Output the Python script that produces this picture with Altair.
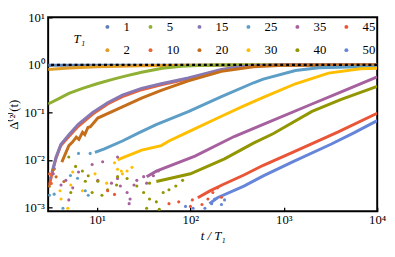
import altair as alt
import pandas as pd

# ---------------- data ----------------
series = ["1", "2", "5", "10", "15", "20", "25", "30", "35", "40", "45", "50"]
colors = ["#5E81B5", "#E19C24", "#8FB032", "#EB6235", "#8778B3", "#C56E1A",
          "#5D9EC7", "#FFBF00", "#A5609D", "#929600", "#E95536", "#6685D9"]
legend_order = ["1", "5", "15", "25", "35", "45", "2", "10", "20", "30", "40", "50"]

# smooth (dense) part of each curve: t/T1 and Delta^(2)
t_1 = [3, 10, 100, 1000, 10000]
d_1 = [0.98, 0.98, 0.985, 0.985, 0.985]
t_2 = [3, 5, 10, 30, 100, 300, 1000, 10000]
d_2 = [0.80, 0.86, 0.91, 0.96, 0.98, 0.99, 0.99, 0.99]
t_5 = [3, 4, 5, 7, 10, 15, 20, 30, 50, 80, 120, 200, 1000, 10000]
d_5 = [0.15, 0.20, 0.25, 0.32, 0.40, 0.50, 0.58, 0.70, 0.85, 0.93, 0.97, 0.99, 0.99, 0.99]
t_10 = [3.1, 3.3, 3.65, 4.1, 5, 6.3, 9, 13, 18.7, 30, 48.7, 95, 215, 347, 600, 1000, 10000]
d_10 = [0.003, 0.0052, 0.0110, 0.020, 0.031, 0.051, 0.092, 0.15, 0.215, 0.30, 0.38, 0.51, 0.78, 0.90, 0.97, 0.99, 0.99]
t_15 = [3.3, 3.65, 4.1, 5, 6.3, 9, 13, 18.7, 30, 48.7, 95, 215, 347, 600, 1000, 10000]
d_15 = [0.0055, 0.0115, 0.021, 0.034, 0.056, 0.10, 0.16, 0.23, 0.32, 0.40, 0.53, 0.80, 0.91, 0.97, 0.99, 0.99]
t_20 = [4.2, 5, 5.5, 6, 6.4, 7, 7.4, 8, 8.5, 10.2, 18.7, 30, 48.7, 95, 215, 473, 1000, 10000]
d_20 = [0.009, 0.020, 0.024, 0.030, 0.027, 0.038, 0.034, 0.048, 0.050, 0.076, 0.13, 0.20, 0.29, 0.46, 0.73, 0.91, 0.98, 0.99]
t_25 = [9.5, 12, 18.7, 28, 43, 95, 215, 475, 603, 1334, 2371, 5000, 10000]
d_25 = [0.0144, 0.017, 0.025, 0.037, 0.055, 0.104, 0.215, 0.42, 0.50, 0.76, 0.87, 0.90, 0.90]
t_30 = [16.6, 18.7, 30.1, 48.7, 59, 95, 215, 374, 603, 1334, 3013, 6650, 10000]
d_30 = [0.010, 0.011, 0.016, 0.020, 0.025, 0.039, 0.083, 0.137, 0.206, 0.40, 0.67, 0.83, 0.85]
t_35 = [34, 43.2, 112, 294, 603, 2005, 4121, 10000]
d_35 = [0.0044, 0.0058, 0.012, 0.031, 0.056, 0.15, 0.27, 0.556]
t_40 = [43.2, 100, 232, 473, 767, 2005, 4121, 10000]
d_40 = [0.0035, 0.0051, 0.0105, 0.0225, 0.0354, 0.105, 0.188, 0.354]
t_45 = [120, 160, 221, 374, 603, 1242, 3830, 10000]
d_45 = [0.0016, 0.0022, 0.0030, 0.0048, 0.0077, 0.0144, 0.039, 0.096]
t_50 = [160, 195, 374, 603, 1242, 3236, 5623, 10000]
d_50 = [0.0012, 0.0016, 0.0028, 0.0046, 0.0091, 0.0216, 0.037, 0.067]

# scattered (noisy) points at small Delta
nt_10 = [3.09, 3.24]
nd_10 = [0.0051, 0.0032]
nt_15 = [3.2, 3.5]
nd_15 = [0.0042, 0.0065]
nt_20 = [3.09, 3.65, 4.42, 3.4]
nd_20 = [0.0028, 0.0044, 0.0035, 0.0062]
nt_25 = [3.48, 7.5, 8.06, 6.19, 4.32, 6.34, 8.45, 3.1, 5.2]
nd_25 = [0.0019, 0.00225, 0.0018, 0.0041, 0.00096, 0.0137, 0.0137, 0.0018, 0.0047]
nt_30 = [4.02, 4.12, 4.87, 5.24, 5.5, 6.98, 15.4, 18.2, 12.7, 9.53, 18.7, 21.0, 23.7, 16.6]
nd_30 = [0.00225, 0.0015, 0.00096, 0.00296, 0.00556, 0.00225, 0.00873, 0.00582, 0.00324,
         0.00508, 0.00508, 0.00582, 0.00697, 0.00637]
nt_35 = [3.4, 4.12, 4.64, 5.5, 6.34, 8.87, 10.2, 14.3, 16.6, 11.5, 4.99, 16.6, 17.8, 21.0,
         22.6, 24.9, 26.7, 31.6, 34.0, 40.2, 45.3, 22.1]
nd_35 = [0.00508, 0.00296, 0.00371, 0.00258, 0.00556, 0.00798, 0.00371, 0.00324, 0.00406,
         0.00914, 0.00144, 0.0115, 0.00283, 0.00206, 0.0015, 0.00296, 0.00371, 0.00444,
         0.00324, 0.00464, 0.00582, 0.0012]
nt_40 = [4.99, 5.9, 6.98, 8.06, 10.2, 8.87, 11.3, 13.0, 16.2, 5.24, 7.5, 16.6, 21.0, 26.7,
         31.6, 36.5, 43.2, 51.1, 59.0, 69.8, 82.5, 36.5, 34.0, 46.4]
nd_40 = [0.0115, 0.00729, 0.00582, 0.00464, 0.00354, 0.00206, 0.0018, 0.00236, 0.00296,
         0.00206, 0.00354, 0.00444, 0.00406, 0.00283, 0.00206, 0.0015, 0.00131, 0.00206,
         0.00236, 0.00283, 0.00371, 0.00324, 0.00096, 0.00091]
nt_45 = [15.4, 13.0, 59, 75, 105, 133, 100, 174, 154, 195, 215]
nd_45 = [0.00188, 0.00225, 0.0012, 0.00131, 0.00144, 0.00115, 0.00105, 0.00206, 0.0015,
         0.00258, 0.00164]
nt_50 = [88.7, 107, 143, 169, 182, 215, 232]
nd_50 = [0.00105, 0.00096, 0.00096, 0.0012, 0.0015, 0.00115, 0.00144]

curves = {"1": (t_1, d_1), "2": (t_2, d_2), "5": (t_5, d_5), "10": (t_10, d_10),
          "15": (t_15, d_15), "20": (t_20, d_20), "25": (t_25, d_25), "30": (t_30, d_30),
          "35": (t_35, d_35), "40": (t_40, d_40), "45": (t_45, d_45), "50": (t_50, d_50)}
noise = {"10": (nt_10, nd_10), "15": (nt_15, nd_15), "20": (nt_20, nd_20),
         "25": (nt_25, nd_25), "30": (nt_30, nd_30), "35": (nt_35, nd_35),
         "40": (nt_40, nd_40), "45": (nt_45, nd_45), "50": (nt_50, nd_50)}

rows = []
for i, s in enumerate(series):
    tt, dd = curves[s]
    for a, b in zip(tt, dd):
        rows.append({"T1": s, "order": i, "t": a, "d": b})
line_df = pd.DataFrame(rows)

rows = []
for i, s in enumerate(series):
    if s in noise:
        tt, dd = noise[s]
        for a, b in zip(tt, dd):
            rows.append({"T1": s, "order": i, "t": a, "d": b})
pt_df = pd.DataFrame(rows)

ref_df = pd.DataFrame({"d": [1.0]})

# ---------------- chart ----------------
FONT = "Liberation Serif"
xs = alt.Scale(type="log", domain=[3, 10000], nice=False)
ys = alt.Scale(type="log", domain=[0.00083, 10], nice=False)
sup = "['⁻³','⁻²','⁻¹','⁰','¹','²','³','⁴'][round(log(datum.value)/LN10)+3]"

x_axis = alt.Axis(values=[10, 100, 1000, 10000], labelExpr="'10' + " + sup,
                  title="t / T₁", domain=False, offset=-4, tickSize=4, tickColor="black",
                  tickWidth=1.3, labelPadding=3, titlePadding=3, grid=False,
                  labelFlush=False,
                  titleFontStyle="italic", titleFontWeight="normal")
y_axis = alt.Axis(values=[0.001, 0.01, 0.1, 1, 10], labelExpr="'10' + " + sup,
                  title="Δ⁽²⁾(t)", domain=False, offset=-4, tickSize=4, tickColor="black",
                  tickWidth=1.3, labelPadding=4, titlePadding=3, grid=False,
                  labelFlush=False, titleFontWeight="normal")

stroke_scale = alt.Scale(domain=series, range=colors)
fill_scale = alt.Scale(domain=legend_order,
                       range=[colors[series.index(s)] for s in legend_order])

lines = alt.Chart(line_df).mark_line(strokeWidth=3, clip=True).encode(
    x=alt.X("t:Q", scale=xs, axis=x_axis),
    y=alt.Y("d:Q", scale=ys, axis=y_axis),
    stroke=alt.Stroke("T1:N", scale=stroke_scale, legend=None),
    detail="order:O",
    order="t:Q",
)

points = alt.Chart(pt_df).mark_circle(size=10, opacity=1, clip=True).encode(
    x=alt.X("t:Q", scale=xs),
    y=alt.Y("d:Q", scale=ys),
    fill=alt.Fill("T1:N", scale=fill_scale,
                  legend=alt.Legend(title="T₁", orient="none", legendX=26, legendY=3,
                                    columns=6, direction="horizontal",
                                    titleOrient="left", titleFontStyle="italic",
                                    titleFontWeight="normal", titleFontSize=13,
                                    titlePadding=16, titleFont=FONT,
                                    symbolType="circle", symbolSize=16,
                                    labelOffset=10, labelFontSize=13, labelFont=FONT,
                                    columnPadding=14, rowPadding=10, gridAlign="each")),
)

ref = alt.Chart(ref_df).mark_rule(color="black", strokeWidth=2.5,
                                  strokeDash=[3, 3]).encode(
    y=alt.Y("d:Q", scale=ys),
)

chart = alt.layer(lines, points, ref).resolve_scale(fill="independent").properties(
    width=336, height=198,
    autosize=alt.AutoSizeParams(type="none"),
    padding={"left": 41, "top": 7, "right": 10, "bottom": 36},
).configure_view(stroke="black", strokeWidth=2).configure_axis(
    labelFont=FONT, titleFont=FONT, labelFontSize=13, titleFontSize=13,
    labelColor="black", titleColor="black",
).configure_legend(padding=0)

chart.save("out.html", embed_options={"renderer": "svg", "actions": False})
